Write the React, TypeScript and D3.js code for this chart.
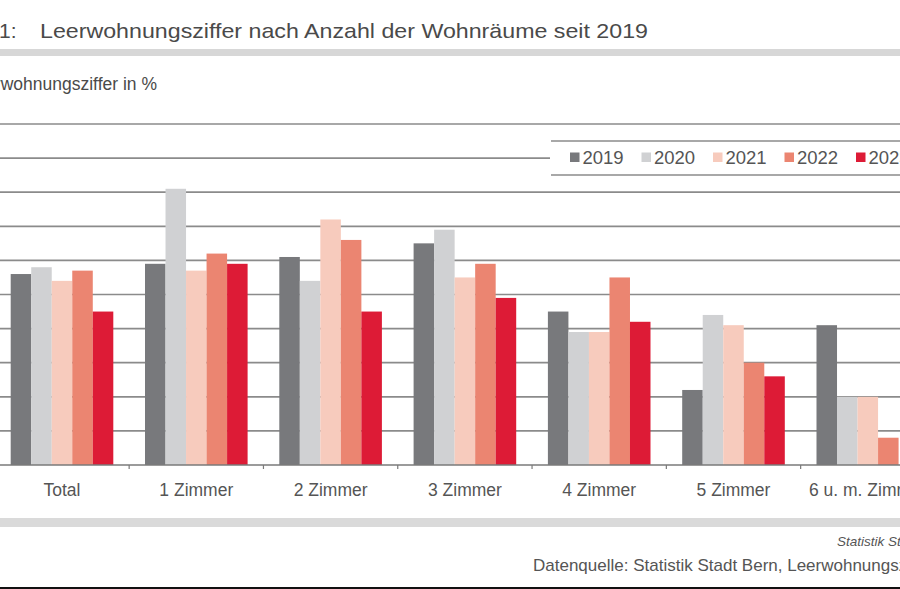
import React from "react";
import * as d3 from "d3";

const categories = ["Total", "1 Zimmer", "2 Zimmer", "3 Zimmer", "4 Zimmer", "5 Zimmer", "6 u. m. Zimmer"];
const years = ["2019", "2020", "2021", "2022", "2023"];
const v2019 = [0.56, 0.59, 0.61, 0.65, 0.45, 0.22, 0.41];
const v2020 = [0.58, 0.81, 0.54, 0.69, 0.39, 0.44, 0.2];
const v2021 = [0.54, 0.57, 0.72, 0.55, 0.39, 0.41, 0.2];
const v2022 = [0.57, 0.62, 0.66, 0.59, 0.55, 0.3, 0.08];
const v2023 = [0.45, 0.59, 0.45, 0.49, 0.42, 0.26, null];
const yTicks = [0.1, 0.2, 0.3, 0.4, 0.5, 0.6, 0.7, 0.8, 0.9, 1.0];
const colors = ["#78797c", "#d0d1d3", "#f7cbbd", "#eb8571", "#dd1b36"];

const series = [v2019, v2020, v2021, v2022, v2023];

export default function App() {
  const W = 900;
  const H = 589;
  const step = 134.3;
  const x0 = 62 - step / 2;
  const x = d3.scaleBand<string>().domain(categories).range([x0, x0 + step * categories.length]).padding(0);
  const xi = d3.scaleBand<string>().domain(years).range([15.85, 118.45]).padding(0);
  const y = d3.scaleLinear().domain([0, 1]).range([465, 124]);
  const grid = "#8b8b8b";
  const font = "'Liberation Sans', Arial, sans-serif";

  return (
    <svg width={W} height={H} style={{ position: "absolute", left: 0, top: 0, background: "#fff" }} fontFamily={font}>
      <rect x={0} y={0} width={W} height={H} fill="#fff" />
      {/* Title */}
      <text x={-1} y={38} fontSize={21} fill="#4a4a4a">1:</text>
      <text x={40} y={38} fontSize={21} fill="#4a4a4a" textLength={608} lengthAdjust="spacingAndGlyphs">
        Leerwohnungsziffer nach Anzahl der Wohnräume seit 2019
      </text>
      <rect x={0} y={49} width={W} height={7} fill="#d7d7d7" />
      <text x={157} y={90} fontSize={17.5} fill="#4a4a4a" textAnchor="end">Leerwohnungsziffer in %</text>

      {/* Gridlines */}
      {yTicks.map((t) => (
        <line key={t} x1={0} x2={W} y1={y(t)} y2={y(t)} stroke={grid} strokeWidth={1.7} />
      ))}

      {/* Bars */}
      {categories.map((c, ci) => (
        <g key={c} transform={`translate(${x(c)},0)`}>
          {years.map((yr, si) => {
            const v = series[si][ci];
            if (v == null) return null;
            return (
              <rect
                key={yr}
                x={xi(yr)}
                y={y(v)}
                width={xi.bandwidth()}
                height={y(0) - y(v)}
                fill={colors[si]}
              />
            );
          })}
        </g>
      ))}

      {/* Axis */}
      <line x1={0} x2={W} y1={y(0)} y2={y(0)} stroke="#7a7a7a" strokeWidth={1.5} />
      {categories.slice(0, -1).map((c) => (
        <line key={c} x1={(x(c) as number) + step} x2={(x(c) as number) + step} y1={y(0)} y2={y(0) + 4} stroke="#7a7a7a" strokeWidth={1.2} />
      ))}
      {categories.map((c) => (
        <text key={c} x={(x(c) as number) + step / 2} y={496} fontSize={17.5} fill="#555" textAnchor="middle">
          {c}
        </text>
      ))}

      {/* Legend */}
      <rect x={550} y={141} width={W - 550} height={34} fill="#fff" />
      <line x1={551} x2={W} y1={141} y2={141} stroke={grid} strokeWidth={1.7} />
      <line x1={551} x2={W} y1={175} y2={175} stroke={grid} strokeWidth={1.7} />
      {years.map((yr, i) => (
        <g key={yr} transform={`translate(${570 + i * 71.5},0)`}>
          <rect x={0} y={152.5} width={9.5} height={9.5} fill={colors[i]} />
          <text x={12.5} y={164} fontSize={18.5} fill="#555">{yr}</text>
        </g>
      ))}

      {/* Footer */}
      <rect x={0} y={518} width={W} height={9} fill="#dadada" />
      <text x={837} y={546} fontSize={13.5} fontStyle="italic" fill="#555">Statistik Stadt Bern</text>
      <text x={533} y={571} fontSize={17} fill="#555">Datenquelle: Statistik Stadt Bern, Leerwohnungszählung</text>
      <rect x={0} y={587} width={W} height={2} fill="#111" />
    </svg>
  );
}
